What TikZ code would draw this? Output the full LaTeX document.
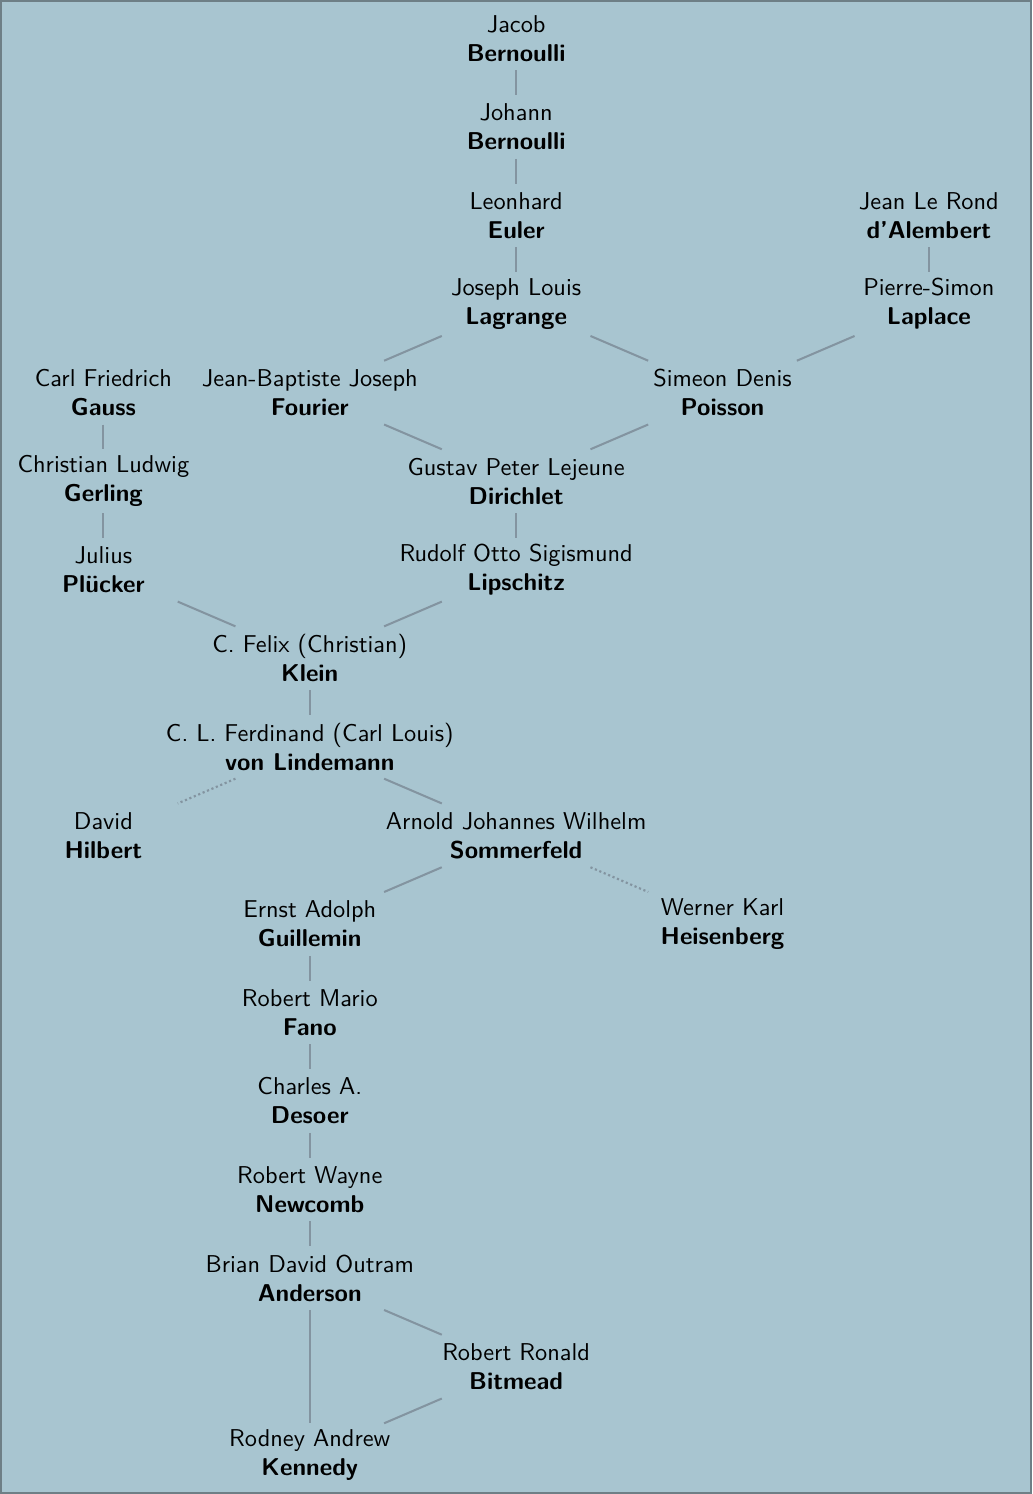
\documentclass[tikz,border=0pt]{standalone}
\definecolor{bgc}{HTML}{A8C5D0}
\definecolor{framec}{HTML}{6E7F86}
\definecolor{edgec}{HTML}{8394A0}
\begin{document}
\begin{tikzpicture}[x=0.416667pt,y=-0.416667pt,
  person/.style={align=center,font=\fontsize{10.15}{12.1}\selectfont\sffamily,inner xsep=5.8pt,inner ysep=1pt,minimum height=26.2pt,minimum width=65pt},
  link/.style={draw=edgec,line width=0.85pt},
  informal/.style={draw=edgec,line width=0.9pt,dash pattern=on 0.9pt off 1.1pt}]
\fill[bgc] (0,0) rectangle (1032,1494);
\draw[framec,line width=0.8pt] (0.5,0.5) rectangle (1031.5,1493.5);
\useasboundingbox (0,0) rectangle (1032,1494);
\node[person] (jacob) at (516,38) {Jacob\\\textbf{Bernoulli}};
\node[person] (johann) at (516,126.6) {Johann\\\textbf{Bernoulli}};
\node[person] (euler) at (516,215.2) {Leonhard\\\textbf{Euler}};
\node[person] (dalembert) at (929,215.2) {Jean Le Rond\\\textbf{d'Alembert}};
\node[person] (lagrange) at (516,303.8) {Joseph Louis\\\textbf{Lagrange}};
\node[person] (laplace) at (929,303.8) {Pierre-Simon\\\textbf{Laplace}};
\node[person] (gauss) at (103,392.4) {Carl Friedrich\\\textbf{Gauss}};
\node[person] (fourier) at (309.5,392.4) {Jean-Baptiste Joseph\\\textbf{Fourier}};
\node[person] (poisson) at (722.5,392.4) {Simeon Denis\\\textbf{Poisson}};
\node[person] (gerling) at (103,481) {Christian Ludwig\\\textbf{Gerling}};
\node[person] (dirichlet) at (516,481) {Gustav Peter Lejeune\\\textbf{Dirichlet}};
\node[person] (plucker) at (103,569.6) {Julius\\\textbf{Plücker}};
\node[person] (lipschitz) at (516,569.6) {Rudolf Otto Sigismund\\\textbf{Lipschitz}};
\node[person] (klein) at (309.5,658.2) {C. Felix (Christian)\\\textbf{Klein}};
\node[person] (lindemann) at (309.5,746.8) {C. L. Ferdinand (Carl Louis)\\\textbf{von Lindemann}};
\node[person] (hilbert) at (103,835.4) {David\\\textbf{Hilbert}};
\node[person] (sommerfeld) at (516,835.4) {Arnold Johannes Wilhelm\\\textbf{Sommerfeld}};
\node[person] (guillemin) at (309.5,924) {Ernst Adolph\\\textbf{Guillemin}};
\node[person] (heisenberg) at (722.5,924) {Werner Karl\\\textbf{Heisenberg}};
\node[person] (fano) at (309.5,1012.6) {Robert Mario\\\textbf{Fano}};
\node[person] (desoer) at (309.5,1101.2) {Charles A.\\\textbf{Desoer}};
\node[person] (newcomb) at (309.5,1189.8) {Robert Wayne\\\textbf{Newcomb}};
\node[person] (anderson) at (309.5,1278.4) {Brian David Outram\\\textbf{Anderson}};
\node[person] (bitmead) at (516,1367) {Robert Ronald\\\textbf{Bitmead}};
\node[person] (kennedy) at (309.5,1455.6) {Rodney Andrew\\\textbf{Kennedy}};
\draw[link] (jacob) -- (johann);
\draw[link] (johann) -- (euler);
\draw[link] (euler) -- (lagrange);
\draw[link] (dalembert) -- (laplace);
\draw[link] (lagrange) -- (fourier);
\draw[link] (lagrange) -- (poisson);
\draw[link] (laplace) -- (poisson);
\draw[link] (gauss) -- (gerling);
\draw[link] (gerling) -- (plucker);
\draw[link] (fourier) -- (dirichlet);
\draw[link] (poisson) -- (dirichlet);
\draw[link] (dirichlet) -- (lipschitz);
\draw[link] (plucker) -- (klein);
\draw[link] (lipschitz) -- (klein);
\draw[link] (klein) -- (lindemann);
\draw[informal] (lindemann) -- (hilbert);
\draw[link] (lindemann) -- (sommerfeld);
\draw[link] (sommerfeld) -- (guillemin);
\draw[informal] (sommerfeld) -- (heisenberg);
\draw[link] (guillemin) -- (fano);
\draw[link] (fano) -- (desoer);
\draw[link] (desoer) -- (newcomb);
\draw[link] (newcomb) -- (anderson);
\draw[link] (anderson) -- (bitmead);
\draw[link] (anderson) -- (kennedy);
\draw[link] (bitmead) -- (kennedy);
\end{tikzpicture}
\end{document}
